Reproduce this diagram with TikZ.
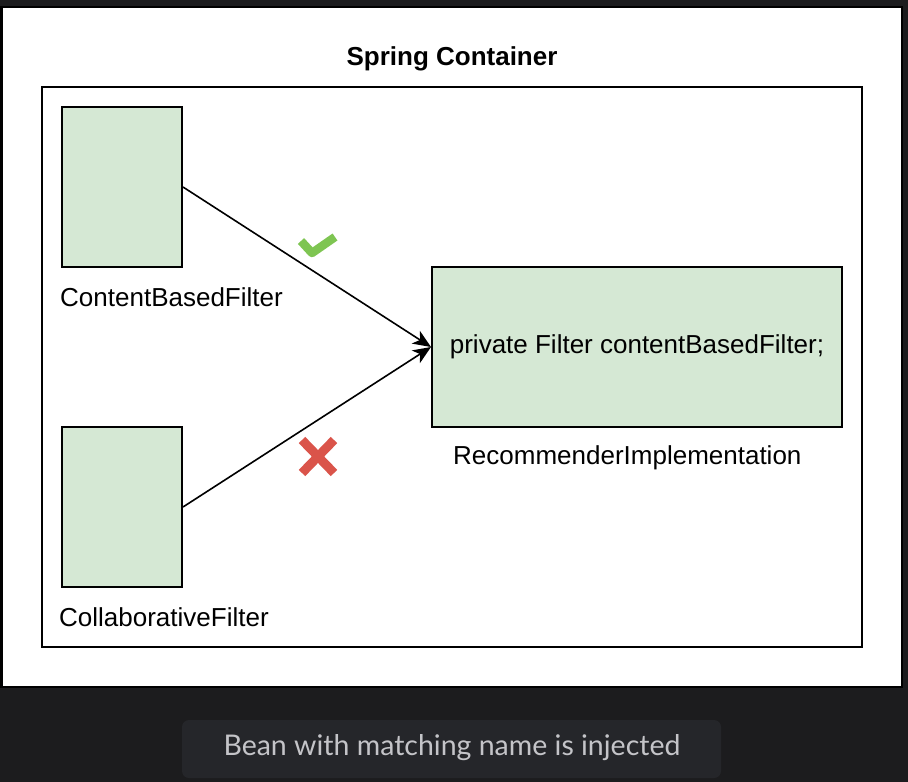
\documentclass[tikz,border=0pt]{standalone}
\usepackage{fontspec}
\setmainfont{Liberation Sans}
\newfontfamily\captionfont{Lato}
\usetikzlibrary{arrows.meta}

\definecolor{pagebg}{RGB}{28,28,30}
\definecolor{capbg}{RGB}{37,38,42}
\definecolor{captext}{RGB}{196,196,200}
\definecolor{beanfill}{RGB}{213,232,212}
\definecolor{okgreen}{RGB}{126,197,82}
\definecolor{badred}{RGB}{218,84,74}

\tikzset{
  bean/.style={draw=black,line width=2pt,fill=beanfill,inner sep=0pt},
  beanlabel/.style={inner sep=0pt,anchor=west,font=\fontsize{26}{31}\selectfont},
  inject/.style={-{Stealth[length=18pt,width=15pt,inset=5pt]},black,line width=1.6pt}
}

\begin{document}
\begin{tikzpicture}[x=1pt,y=-1pt]
      \useasboundingbox (0,0) rectangle (908,782);
      \fill[pagebg] (0,0) rectangle (908,782);

      % white panel and container
      \draw[black,fill=white,line width=2.5pt] (1.5,7) rectangle (902,687);
      \node[font=\bfseries\fontsize{26}{31}\selectfont,inner sep=0pt] (title) at (452,59) {Spring Container};
      \draw[black,line width=2pt] (42,87) rectangle (862,647);

      % beans
      \node[bean,minimum width=120pt,minimum height=160pt] (cbf) at (122,187) {};
      \node[bean,minimum width=120pt,minimum height=160pt] (clf) at (122,507) {};
      \node[bean,minimum width=410pt,minimum height=160pt,font=\fontsize{26}{31}\selectfont] (rec) at (637,347) {private Filter contentBasedFilter;};

      \node[beanlabel] (cbflabel) at (60,297) {ContentBasedFilter};
      \node[beanlabel] (clflabel) at (59,617) {CollaborativeFilter};
      \node[beanlabel] (reclabel) at (453,458) {RecommenderImplementation};

      % injection arrows
      \draw[inject] (cbf.east) -- (rec.west);
      \draw[inject] (clf.east) -- (rec.west);

      % tick and cross
      \draw[okgreen,line width=8.5pt,line join=round] (301,241) -- (312,253) -- (335,237);
      \draw[badred,line width=9pt] (302,440) -- (334,473);
      \draw[badred,line width=9pt] (334,440) -- (302,473);

      % caption
      \fill[capbg,rounded corners=7pt] (182,720) rectangle (721,778);
      \node[font=\captionfont\fontsize{28.5}{34}\selectfont,text=captext,inner sep=0pt] (caption) at (452,748) {Bean with matching name is injected};
\end{tikzpicture}
\end{document}
